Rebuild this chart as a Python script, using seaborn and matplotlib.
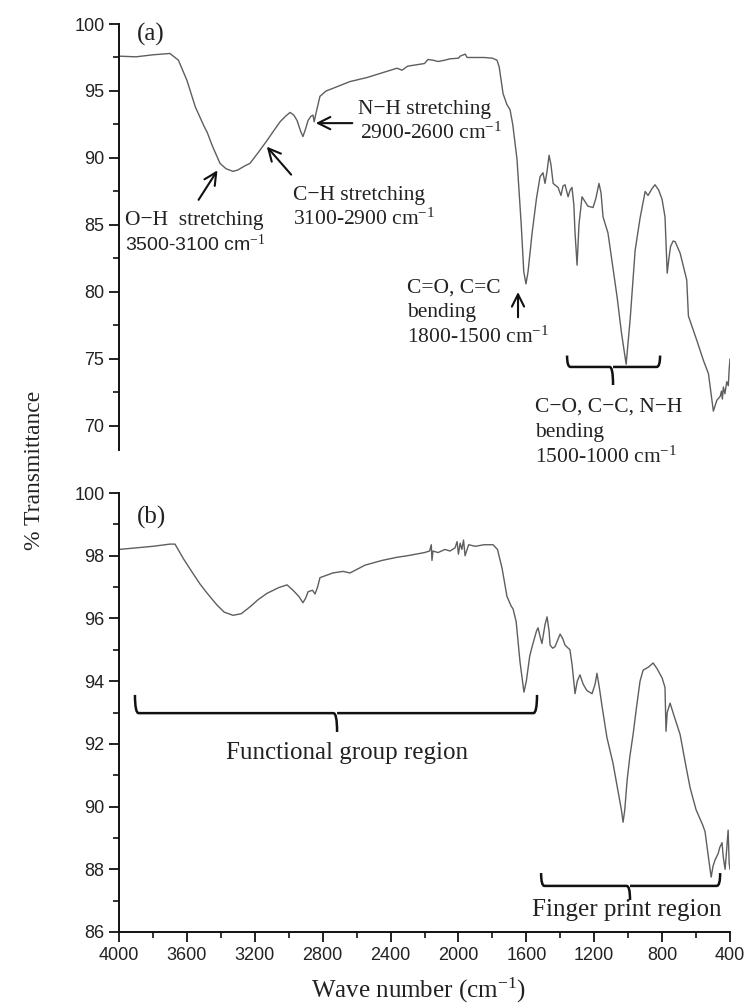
import numpy as np
import pandas as pd
import matplotlib
matplotlib.use("Agg")
import matplotlib.pyplot as plt
from matplotlib.path import Path
from matplotlib.patches import PathPatch
from matplotlib.ticker import MultipleLocator
import seaborn as sns

# ---------------- data ----------------
wn_a = [4000, 3900, 3800, 3750, 3700, 3650, 3600, 3550, 3500, 3480, 3450, 3405, 3370, 3328,
        3300, 3260, 3228, 3180, 3128, 3090, 3051, 3020, 2992, 2970, 2951, 2930, 2916, 2900,
        2886, 2870, 2857, 2850, 2840, 2816, 2780, 2739, 2640, 2540, 2450, 2362, 2332, 2300,
        2250, 2200, 2180, 2150, 2120, 2080, 2050, 2000, 1990, 1960, 1949, 1900, 1850, 1800,
        1773, 1760, 1737, 1715, 1696, 1680, 1655, 1630, 1615, 1602, 1590, 1566, 1540, 1519,
        1502, 1490, 1478, 1466, 1455, 1442, 1413, 1396, 1384, 1372, 1354, 1342, 1331, 1320,
        1313, 1301, 1290, 1272, 1237, 1207, 1190, 1172, 1160, 1148, 1119, 1065, 1040, 1012,
        988, 959, 930, 900, 883, 860, 842, 820, 800, 783, 770, 760, 750, 735, 723, 694, 655,
        645, 596, 557, 527, 498, 478, 458, 450, 445, 439, 430, 419, 410, 405, 400]
tr_a = [97.6, 97.55, 97.7, 97.75, 97.8, 97.3, 95.8, 93.8, 92.4, 91.9, 90.9, 89.6, 89.2, 89.0,
        89.1, 89.4, 89.6, 90.4, 91.3, 92.0, 92.7, 93.1, 93.4, 93.2, 92.8, 92.0, 91.6, 92.2,
        92.8, 93.1, 93.2, 92.7, 93.3, 94.6, 95.0, 95.2, 95.7, 96.0, 96.35, 96.7, 96.55, 96.85,
        96.95, 97.05, 97.35, 97.3, 97.2, 97.3, 97.4, 97.45, 97.6, 97.75, 97.5, 97.5, 97.5, 97.45,
        97.3, 96.8, 94.8, 94.0, 93.6, 92.5, 89.9, 85.0, 81.5, 80.6, 81.5, 84.4, 87.0, 88.6,
        88.9, 88.1, 89.0, 90.2, 89.5, 88.1, 87.8, 87.2, 87.9, 88.0, 87.1, 87.6, 87.8, 86.5,
        84.4, 82.0, 85.0, 87.1, 86.4, 86.3, 87.0, 88.1, 87.4, 85.6, 84.4, 79.6, 77.0, 74.6,
        78.0, 83.1, 85.5, 87.5, 87.2, 87.7, 88.0, 87.6, 86.9, 85.6, 81.4, 82.5, 83.4, 83.8,
        83.75, 82.9, 80.9, 78.2, 76.4, 74.9, 73.9, 71.1, 71.9, 72.2, 72.6, 72.0, 72.9, 72.4,
        73.3, 73.0, 74.2, 75.0]

wn_b = [4000, 3900, 3800, 3700, 3670, 3620, 3560, 3523, 3480, 3423, 3380, 3328, 3280, 3228,
        3180, 3128, 3060, 3010, 2975, 2940, 2916, 2900, 2886, 2860, 2845, 2830, 2816, 2740,
        2680, 2639, 2550, 2450, 2362, 2300, 2250, 2200, 2170, 2160, 2156, 2150, 2120, 2080,
        2050, 2020, 2008, 2000, 1990, 1980, 1970, 1961, 1940, 1900, 1850, 1796, 1770, 1743,
        1714, 1690, 1678, 1660, 1637, 1614, 1600, 1580, 1566, 1540, 1531, 1518, 1508, 1490,
        1478, 1466, 1460, 1445, 1431, 1401, 1385, 1372, 1343, 1330, 1313, 1300, 1284, 1265,
        1243, 1213, 1195, 1184, 1170, 1154, 1125, 1090, 1060, 1040, 1030, 1020, 1006, 990,
        971, 950, 930, 912, 880, 853, 830, 800, 783, 777, 770, 753, 730, 694, 660, 635, 600,
        576, 560, 547, 530, 511, 500, 488, 470, 460, 447, 440, 429, 420, 411, 405, 400]
tr_b = [98.2, 98.25, 98.3, 98.37, 98.37, 97.9, 97.4, 97.1, 96.8, 96.43, 96.2, 96.1, 96.15, 96.37,
        96.6, 96.8, 96.98, 97.07, 96.9, 96.7, 96.5, 96.65, 96.85, 96.9, 96.78, 97.0, 97.3, 97.45,
        97.5, 97.45, 97.7, 97.85, 97.95, 98.0, 98.05, 98.1, 98.15, 98.35, 97.85, 98.15, 98.1, 98.2,
        98.15, 98.25, 98.45, 98.05, 98.4, 98.2, 98.5, 98.0, 98.35, 98.3, 98.35, 98.35, 98.2, 97.6,
        96.7, 96.4, 96.3, 95.9, 94.6, 93.65, 94.0, 94.8, 95.1, 95.6, 95.7, 95.4, 95.2, 95.8,
        96.05, 95.6, 95.15, 95.05, 95.1, 95.5, 95.35, 95.15, 95.0, 94.5, 93.6, 94.0, 94.2, 93.9,
        93.7, 93.6, 93.9, 94.25, 93.8, 93.2, 92.2, 91.4, 90.5, 89.9, 89.5, 89.9, 90.85, 91.6,
        92.3, 93.2, 94.0, 94.35, 94.45, 94.58, 94.4, 94.1, 93.8, 92.4, 93.0, 93.3, 92.9, 92.3,
        91.3, 90.6, 89.9, 89.6, 89.4, 89.2, 88.5, 87.75, 88.1, 88.3, 88.5, 88.7, 88.85, 88.4,
        88.0, 88.6, 89.25, 88.2, 88.0]

x_ticks = [4000, 3600, 3200, 2800, 2400, 2000, 1600, 1200, 800, 400]
y_ticks_a = [70, 75, 80, 85, 90, 95, 100]
y_ticks_b = [86, 88, 90, 92, 94, 96, 98, 100]

# ---------------- style ----------------
sns.set_style("white")
plt.rcParams["font.family"] = ["Liberation Serif", "DejaVu Serif"]
plt.rcParams["mathtext.fontset"] = "custom"
plt.rcParams["mathtext.rm"] = "Liberation Serif"
plt.rcParams["mathtext.it"] = "Liberation Serif"

SERIF = ["Liberation Serif", "DejaVu Serif"]
SANS = ["Liberation Sans", "DejaVu Sans"]
LINE_C = "#5e5e5e"

fig = plt.figure(figsize=(7.45, 10.06), dpi=100)
W, H = 745, 1006
def rect(l, r, t, b):
    return [l / W, 1 - b / H, (r - l) / W, (b - t) / H]

ax_a = fig.add_axes(rect(119, 730, 24, 450))
ax_b = fig.add_axes(rect(119, 730, 493, 932))

df_a = pd.DataFrame({"wn": wn_a, "T": tr_a})
df_b = pd.DataFrame({"wn": wn_b, "T": tr_b})
sns.lineplot(data=df_a, x="wn", y="T", ax=ax_a, color=LINE_C, lw=1.0, estimator=None, sort=False)
sns.lineplot(data=df_b, x="wn", y="T", ax=ax_b, color=LINE_C, lw=1.0, estimator=None, sort=False)

for ax in (ax_a, ax_b):
    ax.set_xlim(4000, 400)
    ax.set_xlabel("")
    ax.set_ylabel("")
    ax.spines["top"].set_visible(False)
    ax.spines["right"].set_visible(False)
    ax.spines["left"].set_linewidth(1.4)
    ax.spines["bottom"].set_linewidth(1.4)
    ax.spines["left"].set_color("#111111")
    ax.spines["bottom"].set_color("#111111")
    ax.tick_params(axis="both", which="major", direction="out", length=7, width=1.3,
                   color="#111111", labelsize=13, labelcolor="#222222", left=True, bottom=True)
    ax.tick_params(axis="both", which="minor", direction="out", length=4, width=1.2,
                   color="#111111", left=True, bottom=True)

ax_a.set_ylim(68.2, 100)
ax_a.set_yticks(y_ticks_a)
ax_a.yaxis.set_minor_locator(MultipleLocator(2.5))
ax_a.spines["bottom"].set_visible(False)
ax_a.tick_params(axis="x", which="both", bottom=False, labelbottom=False)

ax_b.set_ylim(86, 100)
ax_b.set_yticks(y_ticks_b)
ax_b.yaxis.set_minor_locator(MultipleLocator(1))
ax_b.set_xticks(x_ticks)
ax_b.xaxis.set_minor_locator(MultipleLocator(200))

for ax in (ax_a, ax_b):
    for lab in ax.get_yticklabels() + ax.get_xticklabels():
        lab.set_family(SANS)

# ---------------- annotations ----------------
CM = r"cm$^{\mathrm{-1}}$"
TXT = dict(fontfamily=SERIF, color="#222222", clip_on=False)
ARW = dict(arrowstyle="->", color="#111111", lw=1.5, mutation_scale=22)

def brace(ax, x0, x1, xm, y, ytip, ymid, dx=22):
    s = 1 if x1 > x0 else -1
    verts = [(x0, ytip), (x0, y), (x0 + s * dx, y), (xm - s * dx, y), (xm, y), (xm, ymid),
             (xm, y), (xm + s * dx, y), (x1 - s * dx, y), (x1, y), (x1, ytip)]
    codes = [Path.MOVETO, Path.CURVE3, Path.CURVE3, Path.LINETO, Path.CURVE3, Path.CURVE3,
             Path.MOVETO, Path.CURVE3, Path.LINETO, Path.CURVE3, Path.CURVE3]
    ax.add_patch(PathPatch(Path(verts, codes), fill=False, lw=1.8, ec="#111111", clip_on=False))

# panel (a)
ax_a.text(3894, 99.25, "(a)", fontsize=18, ha="left", va="center", **TXT)
ax_a.text(3965, 85.3, "O\u2212H  stretching", fontsize=15.5, ha="left", va="center", **TXT)
ax_a.text(3965, 83.55, "3500-3100 " + r"cm$^{-1}$", fontsize=14, ha="left", va="center",
          fontfamily=SANS, color="#222222")
ax_a.annotate("", xy=(3411, 89.25), xytext=(3540, 86.7), arrowprops=ARW)

ax_a.text(2975, 87.2, "C\u2212H stretching", fontsize=15.5, ha="left", va="center", **TXT)
ax_a.text(2975, 85.45, "3100-2900 " + CM, fontsize=15.5, ha="left", va="center", **TXT)
ax_a.annotate("", xy=(3140, 91.0), xytext=(2975, 88.6), arrowprops=ARW)

ax_a.text(2592, 93.6, "N\u2212H stretching", fontsize=15.5, ha="left", va="center", **TXT)
ax_a.text(2580, 91.85, "2900-2600 " + CM, fontsize=15.5, ha="left", va="center", **TXT)
ax_a.annotate("", xy=(2857, 92.6), xytext=(2609, 92.6), arrowprops=ARW)

ax_a.text(2303, 80.3, "C=O, C=C", fontsize=15.5, ha="left", va="center", **TXT)
ax_a.text(2303, 78.45, "bending", fontsize=15.5, ha="left", va="center", **TXT)
ax_a.text(2303, 76.6, "1800-1500 " + CM, fontsize=15.5, ha="left", va="center", **TXT)
ax_a.annotate("", xy=(1649, 80.2), xytext=(1649, 77.9), arrowprops=ARW)

brace(ax_a, 1360, 812, 1089, 74.4, 75.25, 73.05, dx=20)
ax_a.text(1549, 71.4, "C\u2212O, C\u2212C, N\u2212H", fontsize=15.5, ha="left", va="center", **TXT)
ax_a.text(1549, 69.5, "bending", fontsize=15.5, ha="left", va="center", **TXT)
ax_a.text(1549, 67.65, "1500-1000 " + CM, fontsize=15.5, ha="left", va="center", **TXT)

# panel (b)
ax_b.text(3894, 99.23, "(b)", fontsize=18, ha="left", va="center", **TXT)
brace(ax_b, 3906, 1537, 2715, 92.98, 93.56, 92.38, dx=22)
ax_b.text(2656, 91.7, "Functional group region", fontsize=18, ha="center", va="center", **TXT)
brace(ax_b, 1513, 458, 989, 87.47, 87.88, 87.02, dx=20)
ax_b.text(1007, 86.7, "Finger print region", fontsize=18, ha="center", va="center", **TXT)

# axis titles
fig.text(35 / W, 1 - 470 / H, "% Transmittance", rotation=90, ha="center", va="center",
         fontsize=17, fontfamily=SERIF, color="#222222")
fig.text(418 / W, 1 - 990 / H, "Wave number (" + CM + ")", ha="center", va="center",
         fontsize=18, fontfamily=SERIF, color="#222222")

fig.savefig("out.png", dpi=100)
